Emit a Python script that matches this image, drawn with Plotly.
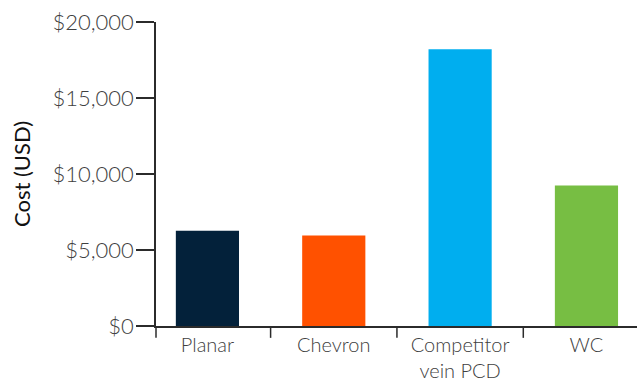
import plotly.graph_objects as go

# Cost comparison by cutter type
categories = ["Planar", "Chevron", "Competitor<br>vein PCD", "WC"]
costs = [6270, 5950, 18200, 9250]
colors = ["#03213A", "#FF5100", "#00AEEF", "#77BE43"]
y_ticks = [0, 5000, 10000, 15000, 20000]
y_tick_labels = ["$0", "$5,000", "$10,000", "$15,000", "$20,000"]

AXIS_COLOR = "#2b2b2b"
FONT = "Lato"

fig = go.Figure(
    go.Bar(
        x=list(range(len(categories))),
        y=costs,
        marker=dict(color=colors, line=dict(width=0)),
        width=0.5,
        hoverinfo="skip",
    )
)

fig.update_layout(
    width=640,
    height=385,
    margin=dict(l=156, r=3, t=22, b=54),
    paper_bgcolor="white",
    plot_bgcolor="white",
    showlegend=False,
    font=dict(family=FONT, color="#404040"),
)

fig.update_xaxes(
    range=[-0.407, 3.40],
    tickmode="array",
    tickvals=list(range(len(categories))),
    ticktext=categories,
    showgrid=False,
    zeroline=False,
    showline=True,
    linecolor=AXIS_COLOR,
    linewidth=1.5,
    ticks="",
    tickfont=dict(family=FONT, size=20, color="#404040", weight=300),
)

# category boundary ticks below the baseline
for b in [0.5, 1.5, 2.5]:
    fig.add_shape(
        type="line", xref="x", yref="paper",
        x0=b, x1=b, y0=0, y1=-0.039,
        line=dict(color=AXIS_COLOR, width=1.5),
    )
# left axis continues below the baseline
fig.add_shape(
    type="line", xref="paper", yref="paper",
    x0=0, x1=0, y0=0, y1=-0.039,
    line=dict(color=AXIS_COLOR, width=1.5),
)

fig.update_yaxes(
    range=[0, 20000],
    tickmode="array",
    tickvals=y_ticks,
    ticktext=y_tick_labels,
    showgrid=False,
    zeroline=False,
    showline=True,
    linecolor=AXIS_COLOR,
    linewidth=1.5,
    ticks="outside",
    ticklen=18,
    tickwidth=1.5,
    tickcolor=AXIS_COLOR,
    ticklabelstandoff=-2,
    tickfont=dict(family=FONT, size=22, color="#404040", weight=300),
    title=dict(text="Cost (USD)", font=dict(family=FONT, size=22, color="#111111"), standoff=16),
)

fig.write_html("out.html")
